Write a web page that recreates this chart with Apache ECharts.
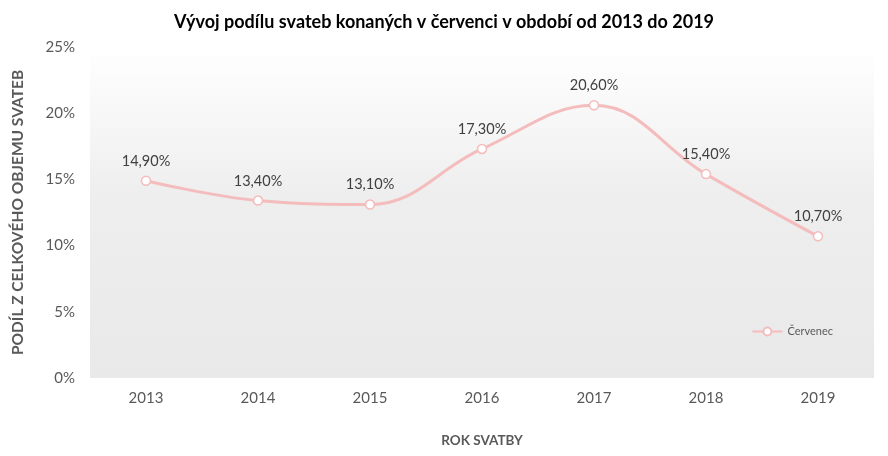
<!DOCTYPE html>
<html><head><meta charset="utf-8">
<script src="https://cdn.jsdelivr.net/npm/echarts@6/dist/echarts.min.js"></script>
<style>html,body{margin:0;padding:0;background:#fff}#c{width:888px;height:456px}</style>
</head><body><div id="c"></div>
<script>
const years = ['2013','2014','2015','2016','2017','2018','2019'];
const cervenec = [14.9, 13.4, 13.1, 17.3, 20.6, 15.4, 10.7];
const yTicks = [0, 5, 10, 15, 20, 25];
const titleText = 'Vývoj podílu svateb konaných v červenci v období od 2013 do 2019';
const seriesName = 'Červenec';
const xName = 'ROK SVATBY';
const yName = 'PODÍL Z CELKOVÉHO OBJEMU SVATEB';

const chart = echarts.init(document.getElementById('c'));
const font = 'Lato, "Open Sans", sans-serif';
chart.setOption({
  animation: false,
  textStyle: {fontFamily: font},
  title: {text: titleText, left: 'center', top: 8,
    textStyle: {fontFamily: font, fontSize: 18, fontWeight: 'bold', color: '#000'}},
  legend: {data: [seriesName], right: 50, top: 321, itemWidth: 30, itemHeight: 10, itemGap: 6,
    textStyle: {color: '#595959', fontSize: 11, fontFamily: font}},
  grid: {left: 90, right: 14, top: 47, bottom: 78, show: true, borderWidth: 0,
    backgroundColor: new echarts.graphic.LinearGradient(0, 0, 0, 1, [
      {offset: 0, color: '#ffffff'}, {offset: 0.45, color: '#eeeeee'}, {offset: 1, color: '#e9e9e9'}])},
  xAxis: {type: 'category', data: years, boundaryGap: true,
    axisLine: {show: false}, axisTick: {show: false},
    axisLabel: {color: '#595959', fontSize: 15, margin: 13},
    name: xName, nameLocation: 'middle', nameGap: 56,
    nameTextStyle: {color: '#595959', fontSize: 13.5, fontWeight: 'bold'}},
  yAxis: {type: 'value', min: yTicks[0], max: yTicks[yTicks.length - 1], interval: 5,
    axisLine: {show: false}, axisTick: {show: false}, splitLine: {show: false},
    axisLabel: {color: '#595959', fontSize: 15, margin: 15, formatter: v => v + '%'},
    name: yName, nameLocation: 'middle', nameGap: 64, nameRotate: 90,
    nameTextStyle: {color: '#595959', fontSize: 15.5, fontWeight: 'bold'}},
  series: [{name: seriesName, type: 'line', data: cervenec, smooth: 0.4,
    symbol: 'circle', symbolSize: 9,
    lineStyle: {color: '#f4bcbc', width: 3},
    itemStyle: {color: '#ffffff', borderColor: '#f4bcbc', borderWidth: 1.5},
    label: {show: true, position: 'top', distance: 7, color: '#404040', fontSize: 14.5,
      formatter: p => p.value.toFixed(2).replace('.', ',') + '%'}}]
});
</script></body></html>
